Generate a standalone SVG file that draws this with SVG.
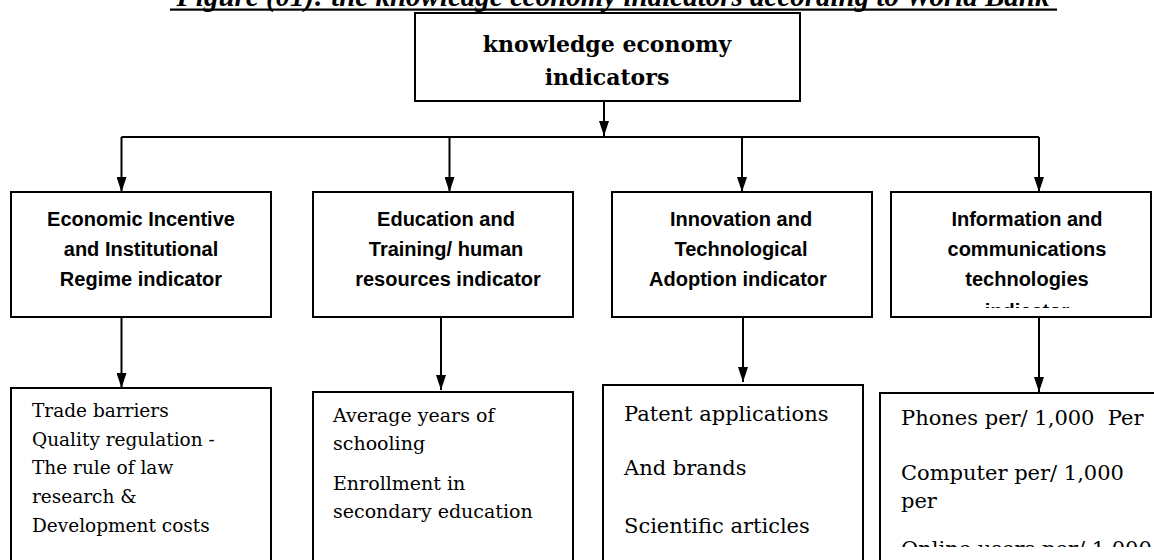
<svg xmlns="http://www.w3.org/2000/svg" width="1154" height="560" viewBox="0 0 1154 560">
  <style>
    .box { fill: #ffffff; stroke: #000000; stroke-width: 2; }
    .conn { fill: none; stroke: #000000; stroke-width: 2; }
    .title { font-family: "Liberation Serif", "Times New Roman", serif; font-weight: bold; font-style: italic; font-size: 29px; text-anchor: middle; fill: #000; }
    .root { font-family: "DejaVu Serif", serif; font-weight: bold; font-size: 22px; text-anchor: middle; fill: #000; }
    .cat { font-family: "Liberation Sans", Arial, sans-serif; font-weight: bold; font-size: 20px; text-anchor: middle; fill: #000; }
    .item { font-family: "DejaVu Serif", serif; fill: #000; }
  </style>
  <defs>
    <marker id="arrow" markerUnits="userSpaceOnUse" markerWidth="15" markerHeight="10" refX="15" refY="5" orient="auto">
      <path d="M0,0 L15,5 L0,10 Z" fill="#000"/>
    </marker>
    <!-- inner text areas of the ICT boxes: overflowing lines are cut here -->
    <clipPath id="clip-ict">
      <rect x="891" y="192" width="260" height="116"/>
    </clipPath>
    <clipPath id="clip-ict-items">
      <rect x="880" y="393" width="274" height="154"/>
    </clipPath>
  </defs>

  <rect width="1154" height="560" fill="#ffffff"/>

  <!-- caption -->
  <g id="caption">
    <text class="title" x="613" y="6">Figure (01): the knowledge economy indicators according to World Bank</text>
    <rect x="170" y="8.5" width="887" height="2.2" fill="#000"/>
  </g>

  <!-- connectors -->
  <g id="connectors">
    <line class="conn" x1="604" y1="101" x2="604" y2="136" marker-end="url(#arrow)"/>
    <line class="conn" x1="121.5" y1="137" x2="1039" y2="137" stroke-width="2.5"/>
    <line class="conn" x1="121.5" y1="137" x2="121.5" y2="192" marker-end="url(#arrow)"/>
    <line class="conn" x1="449.5" y1="137" x2="449.5" y2="192" marker-end="url(#arrow)"/>
    <line class="conn" x1="742" y1="137" x2="742" y2="192" marker-end="url(#arrow)"/>
    <line class="conn" x1="1039" y1="137" x2="1039" y2="192" marker-end="url(#arrow)"/>
    <line class="conn" x1="121.5" y1="317" x2="121.5" y2="388" marker-end="url(#arrow)"/>
    <line class="conn" x1="441" y1="317" x2="441" y2="390" marker-end="url(#arrow)"/>
    <line class="conn" x1="743" y1="317" x2="743" y2="382" marker-end="url(#arrow)"/>
    <line class="conn" x1="1039" y1="317" x2="1039" y2="392" marker-end="url(#arrow)"/>
  </g>

  <!-- root -->
  <g id="node-root">
    <rect class="box" x="415" y="13" width="385" height="88"/>
    <text class="root" x="607" y="52">knowledge economy</text>
    <text class="root" x="607" y="85">indicators</text>
  </g>

  <!-- indicator categories -->
  <g id="node-economic">
    <rect class="box" x="11" y="192" width="260" height="125"/>
    <text class="cat" x="141" y="226">Economic Incentive</text>
    <text class="cat" x="141" y="256">and Institutional</text>
    <text class="cat" x="141" y="286">Regime indicator</text>
  </g>
  <g id="node-education">
    <rect class="box" x="313" y="192" width="260" height="125"/>
    <text class="cat" x="446" y="226">Education and</text>
    <text class="cat" x="446" y="256">Training/ human</text>
    <text class="cat" x="448" y="286">resources indicator</text>
  </g>
  <g id="node-innovation">
    <rect class="box" x="612" y="192" width="260" height="125"/>
    <text class="cat" x="741" y="226">Innovation and</text>
    <text class="cat" x="741" y="256">Technological</text>
    <text class="cat" x="738" y="286">Adoption indicator</text>
  </g>
  <g id="node-ict">
    <rect class="box" x="891" y="192" width="260" height="125"/>
    <g clip-path="url(#clip-ict)">
      <text class="cat" x="1027" y="226">Information and</text>
      <text class="cat" x="1027" y="256">communications</text>
      <text class="cat" x="1027" y="286">technologies</text>
      <text class="cat" x="1027" y="318">indicator</text>
    </g>
  </g>

  <!-- measured variables -->
  <g id="node-economic-items">
    <rect class="box" x="11" y="388" width="260" height="200"/>
    <g class="item" font-size="18.5">
      <text x="32" y="417">Trade barriers</text>
      <text x="32" y="446">Quality regulation -</text>
      <text x="32" y="474">The rule of law</text>
      <text x="32" y="503">research &amp;</text>
      <text x="32" y="532">Development costs</text>
    </g>
  </g>
  <g id="node-education-items">
    <rect class="box" x="313" y="392" width="260" height="200"/>
    <g class="item" font-size="19">
      <text x="333" y="422">Average years of</text>
      <text x="333" y="450">schooling</text>
      <text x="333" y="490">Enrollment in</text>
      <text x="333" y="518">secondary education</text>
    </g>
  </g>
  <g id="node-innovation-items">
    <rect class="box" x="603" y="385" width="260" height="200"/>
    <g class="item" font-size="21">
      <text x="624" y="421">Patent applications</text>
      <text x="624" y="475">And brands</text>
      <text x="624" y="533">Scientific articles</text>
    </g>
  </g>
  <g id="node-ict-items">
    <rect class="box" x="880" y="393" width="290" height="200"/>
    <g class="item" font-size="21" clip-path="url(#clip-ict-items)">
      <text x="901" y="425" xml:space="preserve">Phones per/ 1,000  Per</text>
      <text x="901" y="480">Computer per/ 1,000</text>
      <text x="901" y="508">per</text>
      <text x="901" y="556">Online users per/ 1,000</text>
    </g>
  </g>
</svg>
